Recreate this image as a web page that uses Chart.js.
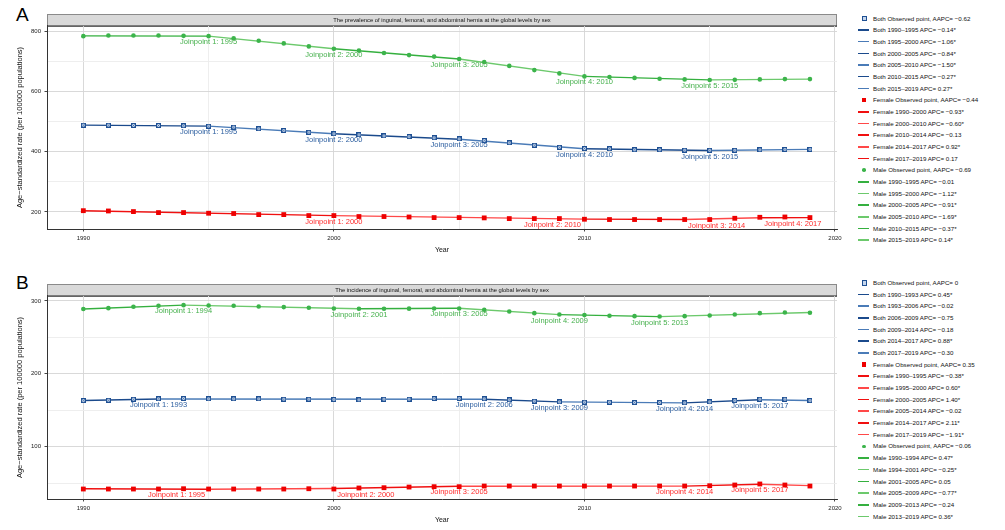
<!DOCTYPE html>
<html>
<head>
<meta charset="utf-8">
<script src="https://cdn.jsdelivr.net/npm/chart.js@4.4.1/dist/chart.umd.min.js"></script>
<style>
  body { margin: 0; background: #fff; font-family: "Liberation Sans", Arial, sans-serif; }
  #page { position: relative; width: 1005px; height: 530px; overflow: hidden; }
  canvas { position: absolute; left: 0; }
  .tag { position: absolute; left: 16px; font-size: 19px; line-height: 19px; color: #000; }
  .legend { position: absolute; left: 857px; font-size: 6.2px; color: #111; }
  .legend .row { position: relative; white-space: nowrap; padding-left: 16px; }
  .legend .sw { position: absolute; top: 50%; }
</style>
</head>
<body>
<div id="page">
  <div class="tag" style="top:4.5px">A</div>
  <canvas id="chartA" width="850" height="265" style="top:0"></canvas>
  <div class="legend" id="legendA"></div>
  <div class="tag" style="top:272.5px">B</div>
  <canvas id="chartB" width="850" height="265" style="top:270px"></canvas>
  <div class="legend" id="legendB"></div>
</div>
<script>
// observed years
const years = [1990, 1991, 1992, 1993, 1994, 1995, 1996, 1997, 1998, 1999,
               2000, 2001, 2002, 2003, 2004, 2005, 2006, 2007, 2008, 2009,
               2010, 2011, 2012, 2013, 2014, 2015, 2016, 2017, 2018, 2019];

// A: prevalence, observed age-standardized rates
const prevBoth = [488.7, 488.7, 488, 487.7, 486.7, 485.5, 482, 476.7, 471, 465,
                  460, 456.7, 453, 450.5, 446.7, 443, 437.7, 430, 422, 415,
                  411, 410, 406.7, 406.7, 405.5, 405, 405, 406.7, 407.7, 408];
const prevFemale = [204, 203, 201, 197.7, 197.7, 195.5, 194.5, 191, 191, 187.7,
                    187.7, 184.5, 184.5, 183, 181, 181, 180, 177.7, 177.7, 177.7,
                    175.5, 174.5, 174.5, 174.5, 174.5, 174.5, 178.7, 182, 183, 181];
const prevMale = [785, 787, 787, 787, 786, 785, 778, 770, 761, 751,
                  743, 737, 729, 722, 717, 709, 699, 686, 672, 661,
                  651, 649, 646, 643, 641, 639, 639.5, 641, 642, 642];

// A: joinpoint model (segment ends, fitted values, APC per segment)
const prevBothJoins = [1990, 1995, 2000, 2005, 2010, 2015, 2019];
const prevBothFit = [489, 485.5, 460, 442, 410, 404.5, 408];
const prevBothApc = ['−0.14*', '−1.06*', '−0.84*', '−1.50*', '−0.27*', '0.27*'];
const prevFemaleJoins = [1990, 2000, 2010, 2014, 2017, 2019];
const prevFemaleFit = [204, 187.5, 176, 174.5, 180.5, 181];
const prevFemaleApc = ['−0.93*', '−0.60*', '−0.13', '0.92*', '0.17'];
const prevMaleJoins = [1990, 1995, 2000, 2005, 2010, 2015, 2019];
const prevMaleFit = [786, 785, 743, 709, 651, 639.5, 642];
const prevMaleApc = ['−0.01', '−1.12*', '−0.91*', '−1.69*', '−0.37*', '0.14*'];
const prevAapc = ['−0.62', '−0.44', '−0.69'];

// B: incidence, observed age-standardized rates
const incBoth = [163.3, 163.8, 165.2, 165.7, 166.1, 165.7, 165.7, 165.7, 165.2, 165.2,
                 164.7, 164.3, 165.2, 165.2, 166.1, 166.1, 165.7, 164.3, 162.5, 161.5,
                 161.1, 161.1, 160.6, 160.6, 160.2, 161.5, 163.3, 165.2, 165.2, 163.3];
const incFemale = [41.9, 41.9, 41.9, 41.9, 42.3, 41.9, 41.9, 41.9, 41.9, 42.3,
                   41.9, 43.3, 43.7, 44.6, 45.1, 45.1, 46, 46, 46, 46,
                   46, 46, 46, 46, 46, 46.4, 47.4, 48.8, 47.4, 46];
const incMale = [288.9, 290.2, 292, 293.4, 294.3, 293.8, 293.4, 292.5, 291.6, 290.7,
                 289.7, 289.3, 289.3, 289.5, 289.7, 289.7, 287.9, 285.6, 283.3, 281.5,
                 280.6, 279.7, 279.2, 278.8, 279.2, 280.1, 281.5, 283.3, 284.2, 283.8];

const incBothJoins = [1990, 1993, 2006, 2009, 2014, 2017, 2019];
const incBothFit = [163.5, 165.5, 165.2, 161.5, 160.2, 164.5, 163.5];
const incBothApc = ['0.45*', '−0.02', '−0.75', '−0.18', '0.88*', '−0.30'];
const incFemaleJoins = [1990, 1995, 2000, 2005, 2014, 2017, 2019];
const incFemaleFit = [42.2, 41.5, 42.6, 45.6, 45.9, 48.4, 46.6];
const incFemaleApc = ['−0.38*', '0.60*', '1.40*', '−0.02', '2.11*', '−1.91*'];
const incMaleJoins = [1990, 1994, 2001, 2005, 2009, 2013, 2019];
const incMaleFit = [289, 294.3, 289.4, 290, 281.3, 278.6, 284.2];
const incMaleApc = ['0.47*', '−0.25*', '0.05', '−0.77*', '−0.24', '0.36*'];
const incAapc = ['0', '0.35', '−0.06'];

// styles
const FONT = '"Liberation Sans", Arial, sans-serif';
Chart.defaults.font.family = FONT;
Chart.defaults.color = '#222';

const look = {
  Both:   { shades: ['#1b4a8c', '#4a7bb7'], text: '#2a5d9f', fill: '#c6d6ec' },
  Female: { shades: ['#f01010', '#ff4848'], text: '#ff2a2a', fill: '#ee0000' },
  Male:   { shades: ['#35b03f', '#6cc96c'], text: '#45b04c', fill: '#3cb44b' }
};

// nudges for joinpoint labels that were pushed aside in the original
const labelShift = {
  'A-Female-2010': -32, 'A-Female-2014': 32, 'A-Female-2017': 33,
  'B-Female-1995': -32, 'B-Female-2000': 32
};

function boxMarker() {
  const c = document.createElement('canvas');
  c.width = 5; c.height = 5;
  const g = c.getContext('2d');
  g.fillStyle = look.Both.fill; g.fillRect(0.5, 0.5, 4, 4);
  g.strokeStyle = '#1f5093'; g.lineWidth = 1; g.strokeRect(0.5, 0.5, 4, 4);
  g.lineWidth = 0.5;
  g.beginPath(); g.moveTo(1, 1); g.lineTo(4, 4); g.moveTo(4, 1); g.lineTo(1, 4); g.stroke();
  return c;
}

function makePanel(id, canvasId, legendId, title, yMin, yMax, yStep, yMajor, legendTop, rowH, series) {
  const datasets = [];
  const legendRows = [];
  series.forEach(s => {
    const lk = look[s.name];
    const obsLabel = s.name + ' Observed point, AAPC= ' + s.aapc;
    const ds = { type: 'scatter', label: obsLabel, data: years.map((yr, i) => ({ x: yr, y: s.obs[i] })), pointHoverRadius: 0 };
    if (s.name === 'Both') Object.assign(ds, { pointStyle: boxMarker(), pointRadius: 2.5 });
    if (s.name === 'Female') Object.assign(ds, { pointStyle: 'rect', pointRadius: 3.4, backgroundColor: lk.fill, borderColor: lk.fill, borderWidth: 0 });
    if (s.name === 'Male') Object.assign(ds, { pointStyle: 'circle', pointRadius: 2.3, backgroundColor: lk.fill, borderColor: lk.fill, borderWidth: 0 });
    datasets.push(ds);
    legendRows.push({ text: obsLabel, kind: s.name });
    for (let i = 0; i < s.joins.length - 1; i++) {
      const lab = s.name + ' ' + s.joins[i] + '–' + s.joins[i + 1] + ' APC= ' + s.apc[i];
      const col = lk.shades[i % 2];
      datasets.push({
        type: 'line', label: lab,
        data: [{ x: s.joins[i], y: s.fit[i] }, { x: s.joins[i + 1], y: s.fit[i + 1] }],
        borderColor: col, borderWidth: 1.4, pointRadius: 0, pointHoverRadius: 0, fill: false
      });
      legendRows.push({ text: lab, kind: 'line', color: col });
    }
  });

  const stripPlugin = {
    id: 'strip',
    beforeDraw(chart) {
      const t = chart.titleBlock, ctx = chart.ctx;
      ctx.save();
      ctx.fillStyle = '#d9d9d9';
      ctx.fillRect(t.left, t.top, t.width, t.height);
      ctx.strokeStyle = '#8a8a8a'; ctx.lineWidth = 1;
      ctx.strokeRect(t.left + 0.5, t.top + 0.5, t.width - 1, t.height);
      ctx.strokeStyle = '#333';
      ctx.beginPath(); ctx.moveTo(t.left, t.bottom); ctx.lineTo(t.right, t.bottom); ctx.stroke();
      ctx.restore();
    }
  };

  const jpPlugin = {
    id: 'jpLabels',
    afterDatasetsDraw(chart) {
      const { ctx, scales: { x, y } } = chart;
      ctx.save();
      ctx.font = '7.5px ' + FONT;
      ctx.textAlign = 'center';
      ctx.textBaseline = 'middle';
      series.forEach(s => {
        ctx.fillStyle = look[s.name].text;
        for (let k = 1; k < s.joins.length - 1; k++) {
          const yr = s.joins[k];
          const dx = labelShift[id + '-' + s.name + '-' + yr] || 0;
          ctx.fillText('Joinpoint ' + k + ': ' + yr, x.getPixelForValue(yr) + dx, y.getPixelForValue(s.fit[k]) + 6);
        }
      });
      ctx.restore();
    }
  };

  const majorColor = '#d5d5d5', minorColor = '#ececec';

  new Chart(document.getElementById(canvasId), {
    type: 'scatter',
    data: { datasets },
    options: {
      responsive: false,
      animation: false,
      events: [],
      layout: { padding: { top: 14, right: 13, left: 0, bottom: 0 } },
      plugins: {
        legend: { display: false },
        tooltip: { enabled: false },
        title: {
          display: true, text: title, fullSize: false, color: '#111',
          font: { size: 5.8, weight: 'normal' }, padding: { top: 2.5, bottom: 2.5 }
        }
      },
      scales: {
        x: {
          type: 'linear', min: 1988.55, max: 2020.08,
          afterBuildTicks: sc => {
            const t = [];
            for (let v = 1990; v <= 2020; v += 5) t.push({ value: v });
            sc.ticks = t;
          },
          afterFit: sc => { sc.height = 36; },
          grid: {
            color: c => (c.tick && c.tick.value % 10 === 0) ? majorColor : minorColor,
            tickColor: c => (c.tick && c.tick.value % 10 === 0) ? '#333' : 'rgba(0,0,0,0)',
            tickLength: 2.5, lineWidth: 0.9
          },
          border: { display: true, color: '#333', width: 1 },
          ticks: {
            font: { size: 6 }, color: '#222', padding: 3, maxRotation: 0, autoSkip: false,
            callback: v => (v % 10 === 0 ? String(v) : '')
          },
          title: { display: true, text: 'Year', color: '#111', font: { size: 7 }, padding: { top: 0, bottom: 10.8 } }
        },
        y: {
          min: yMin, max: yMax,
          afterBuildTicks: sc => {
            const t = [];
            for (let v = yStep; v <= yMax; v += yStep) if (v >= yMin) t.push({ value: v });
            sc.ticks = t;
          },
          afterFit: sc => { sc.width = 47; },
          grid: {
            color: c => (c.tick && c.tick.value % yMajor === 0) ? majorColor : minorColor,
            tickColor: c => (c.tick && c.tick.value % yMajor === 0) ? '#333' : 'rgba(0,0,0,0)',
            tickLength: 2.5, lineWidth: 0.9
          },
          border: { display: true, color: '#333', width: 1 },
          ticks: {
            font: { size: 6 }, color: '#222', padding: 3.5, autoSkip: false,
            callback: v => (v % yMajor === 0 ? String(v) : '')
          },
          title: {
            display: true, text: 'Age−standardized rate (per 100000 populations)', color: '#111',
            font: { size: 7.5 }, padding: { top: 15.5, bottom: 0 }
          }
        }
      }
    },
    plugins: [stripPlugin, jpPlugin]
  });

  // legend, built from the same series
  const box = document.getElementById(legendId);
  box.style.top = legendTop + 'px';
  legendRows.forEach(r => {
    const row = document.createElement('div');
    row.className = 'row';
    row.style.height = rowH + 'px';
    row.style.lineHeight = rowH + 'px';
    const sw = document.createElement('span');
    sw.className = 'sw';
    if (r.kind === 'line') {
      Object.assign(sw.style, { left: '1px', width: '11px', height: '1.6px', marginTop: '-0.8px', background: r.color });
    } else if (r.kind === 'Both') {
      Object.assign(sw.style, { left: '4.5px', width: '3.4px', height: '3.4px', marginTop: '-2.5px', background: look.Both.fill, border: '0.8px solid #1f5093' });
    } else if (r.kind === 'Female') {
      Object.assign(sw.style, { left: '4.5px', width: '4.5px', height: '4.5px', marginTop: '-2.3px', background: look.Female.fill });
    } else {
      Object.assign(sw.style, { left: '5px', width: '3.6px', height: '3.6px', marginTop: '-1.8px', borderRadius: '50%', background: look.Male.fill });
    }
    row.appendChild(sw);
    row.appendChild(document.createTextNode(r.text));
    box.appendChild(row);
  });
}

makePanel('A', 'chartA', 'legendA',
  'The prevalence of inguinal, femoral, and abdominal hernia at the global levels by sex',
  143, 819, 100, 200, 12.5, 11.68, [
    { name: 'Both', obs: prevBoth, joins: prevBothJoins, fit: prevBothFit, apc: prevBothApc, aapc: prevAapc[0] },
    { name: 'Female', obs: prevFemale, joins: prevFemaleJoins, fit: prevFemaleFit, apc: prevFemaleApc, aapc: prevAapc[1] },
    { name: 'Male', obs: prevMale, joins: prevMaleJoins, fit: prevMaleFit, apc: prevMaleApc, aapc: prevAapc[2] }
  ]);

makePanel('B', 'chartB', 'legendB',
  'The incidence of inguinal, femoral, and abdominal hernia at the global levels by sex',
  28.2, 306.9, 50, 100, 276.85, 11.7, [
    { name: 'Both', obs: incBoth, joins: incBothJoins, fit: incBothFit, apc: incBothApc, aapc: incAapc[0] },
    { name: 'Female', obs: incFemale, joins: incFemaleJoins, fit: incFemaleFit, apc: incFemaleApc, aapc: incAapc[1] },
    { name: 'Male', obs: incMale, joins: incMaleJoins, fit: incMaleFit, apc: incMaleApc, aapc: incAapc[2] }
  ]);
</script>
</body>
</html>
